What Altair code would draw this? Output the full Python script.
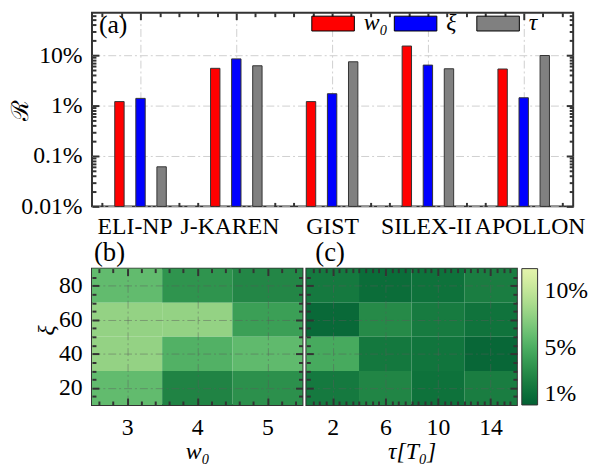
import json
import altair as alt
import pandas as pd

FONT = "Liberation Serif, Times New Roman, Times, DejaVu Serif, serif"
TC = "#333333"

# ---------------- data ----------------
facilities = ["ELI-NP", "J-KAREN", "GIST", "SILEX-II", "APOLLON"]
params = ["w₀", "ξ", "τ"]
param_colors = ["#ff0000", "#0000ff", "#808080"]
r_w0 = [1.20, 5.49, 1.20, 15.2, 5.32]
r_xi = [1.39, 8.45, 1.72, 6.36, 1.43]
r_tau = [0.061, 6.17, 7.40, 5.38, 9.86]

xi_vals = [80, 60, 40, 20]
w0_vals = [3, 4, 5]
tau_vals = [2, 6, 10, 14]
R_w0_xi = [
    [6.0, 3.4, 2.6],
    [8.0, 8.0, 4.1],
    [8.0, 5.3, 5.9],
    [6.0, 2.4, 3.2],
]
R_tau_xi = [
    [1.7, 0.85, 1.2, 2.0],
    [0.6, 2.8, 1.8, 1.3],
    [4.8, 1.6, 1.4, 0.5],
    [1.7, 2.5, 1.2, 2.0],
]

rows = []
for i, fac in enumerate(facilities):
    for j, (p, vals) in enumerate(zip(params, [r_w0, r_xi, r_tau])):
        rows.append({"facility": fac, "idx": i + 1, "param": p, "R": vals[i],
                     "pos": i + 1 + (j - 1) * 0.22})
bars_df = pd.DataFrame(rows)


def grid_df(xname, xvals, mat):
    return pd.DataFrame([{"xi": xi, xname: xv, "R": mat[r][c]}
                         for r, xi in enumerate(xi_vals)
                         for c, xv in enumerate(xvals)])


df_b = grid_df("w0", w0_vals, R_w0_xi)
df_c = grid_df("tau", tau_vals, R_tau_xi)

GRID_DASH = [8, 3, 2, 3]


def tick_axis(orient, values, size, **kw):
    d = dict(orient=orient, values=values, tickSize=size, offset=-size, tickWidth=2,
             tickColor=TC, domain=False, labels=False, grid=False, title=None, ticks=True)
    d.update(kw)
    return alt.Axis(**d)


# ---------------- top panel ----------------
x_sc = alt.Scale(domain=[0.545, 5.465], nice=False, zero=False)
y_sc = alt.Scale(type="log", domain=[0.01, 69.7], nice=False)
x_major = [1, 2, 3, 4, 5]
x_minor = [round(0.6 + 0.2 * k, 1) for k in range(25) if abs((0.6 + 0.2 * k) - round(0.6 + 0.2 * k)) > 1e-6]
y_major = [0.01, 0.1, 1, 10]
y_minor = [m * 10 ** e for e in (-2, -1, 0, 1) for m in range(2, 10) if m * 10 ** e <= 69.7]

fac_expr = json.dumps(facilities) + "[datum.value - 1]"
nudges = [-6, -7, 0, -2, 6]
label_nudge = {"condition": [{"test": f"datum.value == {k + 1}", "value": v}
                             for k, v in enumerate(nudges) if v != 0],
               "value": 0}

base_top = alt.Chart(bars_df)
bars = base_top.mark_bar(size=9.5, stroke=TC, strokeWidth=1, orient="vertical").encode(
    x=alt.X("pos:Q", scale=x_sc,
            axis=tick_axis("bottom", x_major, 7, labels=True, labelExpr=fac_expr,
                           labelPadding=8, labelFlush=False, labelOverlap=False,
                           labelOffset=label_nudge,
                           grid=True, gridDash=GRID_DASH, gridColor="#cfcfcf", gridWidth=1)),
    y=alt.Y("R:Q", scale=y_sc,
            axis=tick_axis("left", y_major, 7, labels=True,
                           labelExpr="format(datum.value, '~g') + '%'",
                           labelPadding=10, labelFlush=False,
                           grid=True, gridDash=GRID_DASH, gridColor="#cfcfcf", gridWidth=1,
                           title="ℛ", titleX=-79, titleBaseline="middle", titleAlign="center",
                           titleAngle=-90)),
    y2=alt.datum(0.01),
    color=alt.Color("param:N", scale=alt.Scale(domain=params, range=param_colors),
                    legend=alt.Legend(orient="none", legendX=232, legendY=-1, direction="horizontal",
                                      columns=3, title=None, symbolType="M-2.87,-1H2.87V1H-2.87Z",
                                      symbolSize=225, symbolStrokeColor="black",
                                      symbolStrokeWidth=1, symbolOpacity=1,
                                      labelOffset=19, columnPadding=3.5, gridAlign="all",
                                      labelFontStyle="italic", labelFontSize=24, padding=0)),
)
ghost = base_top.mark_point(opacity=0, size=1)
g1 = ghost.encode(x=alt.X("pos:Q", scale=x_sc, axis=tick_axis("bottom", x_minor, 4)),
                  y=alt.Y("R:Q", scale=y_sc, axis=tick_axis("left", y_minor, 4)))
g2 = ghost.encode(x=alt.X("pos:Q", scale=x_sc, axis=tick_axis("top", x_major, 7)),
                  y=alt.Y("R:Q", scale=y_sc, axis=tick_axis("right", y_major, 7)))
g3 = ghost.encode(x=alt.X("pos:Q", scale=x_sc, axis=tick_axis("top", x_minor, 4)),
                  y=alt.Y("R:Q", scale=y_sc, axis=tick_axis("right", y_minor, 4)))

top = alt.layer(bars, g1, g2, g3).resolve_axis(x="independent", y="independent").properties(
    width=487, height=196,
    title=alt.TitleParams("(a)", anchor="start", frame="group", baseline="top", offset=-27, dx=7,
                          fontSize=26, font=FONT, fontWeight="normal"))

# ---------------- heatmaps ----------------
color_scale = alt.Scale(scheme="yellowgreen", reverse=True, domain=[0, 12])
cb_legend = alt.Legend(orient="none", legendX=435, legendY=0, direction="vertical", title=None,
                       gradientLength=138, gradientThickness=16, values=[1, 5, 10],
                       labelExpr="datum.value + '%'", gradientStrokeColor=TC,
                       gradientStrokeWidth=1, labelOffset=7, labelFontSize=24, padding=0)
y_hm_major = [20, 40, 60, 80]
y_hm_minor = [v for v in range(15, 90, 5) if v not in y_hm_major]
HM_GRID = "rgba(90,90,90,0.45)"


def hm_panel(df, xname, xdomain, xmajor, xminor, xtitle, show_y, title, title_dx, width):
    xs = alt.Scale(domain=xdomain, nice=False, zero=False)
    ys = alt.Scale(domain=[10, 90], nice=False, zero=False)
    half = (xmajor[1] - xmajor[0]) / 2
    base = alt.Chart(df)
    yaxis_kw = dict(grid=True, gridDash=GRID_DASH, gridColor=HM_GRID, zindex=1)
    if show_y:
        yaxis_kw.update(labels=True, labelPadding=10, title="ξ", titleFontStyle="italic",
                        titleX=-53, titleY=62, titleBaseline="middle", titleAlign="center",
                        titleAngle=-90)
    rect = base.transform_calculate(
        x0=f"datum['{xname}'] - {half}", x1=f"datum['{xname}'] + {half}",
        y0="datum.xi - 10", y1="datum.xi + 10",
    ).mark_rect().encode(
        x=alt.X("x0:Q", scale=xs,
                axis=tick_axis("bottom", xmajor, 7, labels=True, labelPadding=11, labelFlush=False,
                               grid=True, gridDash=GRID_DASH, gridColor=HM_GRID, zindex=1,
                               title=xtitle, titleFontStyle="italic", titlePadding=0)),
        x2="x1:Q",
        y=alt.Y("y0:Q", scale=ys, axis=tick_axis("left", y_hm_major, 7, **yaxis_kw)),
        y2="y1:Q",
        color=alt.Color("R:Q", scale=color_scale, legend=cb_legend),
    )
    gh = base.mark_point(opacity=0, size=1)
    h1 = gh.encode(x=alt.X(f"{xname}:Q", scale=xs, axis=tick_axis("bottom", xminor, 4, zindex=1)),
                   y=alt.Y("xi:Q", scale=ys, axis=tick_axis("left", y_hm_minor, 4, zindex=1)))
    h2 = gh.encode(x=alt.X(f"{xname}:Q", scale=xs, axis=tick_axis("top", xmajor, 7, zindex=1)),
                   y=alt.Y("xi:Q", scale=ys, axis=tick_axis("right", y_hm_major, 7, zindex=1)))
    h3 = gh.encode(x=alt.X(f"{xname}:Q", scale=xs, axis=tick_axis("top", xminor, 4, zindex=1)),
                   y=alt.Y("xi:Q", scale=ys, axis=tick_axis("right", y_hm_minor, 4, zindex=1)))
    return alt.layer(rect, h1, h2, h3).resolve_axis(x="independent", y="independent").properties(
        width=width, height=138,
        title=alt.TitleParams(title, anchor="start", frame="group", offset=1, dx=title_dx,
                              fontSize=27, font=FONT, fontWeight="normal"))


w0_minor = [round(2.6 + 0.2 * k, 1) for k in range(15)]
w0_minor = [v for v in w0_minor if abs(v - round(v)) > 1e-6]
tau_minor = [0.5 * k for k in range(1, 32) if (0.5 * k) not in tau_vals]

panel_b = hm_panel(df_b, "w0", [2.5, 5.5], w0_vals, w0_minor, "w₀", True, "(b)", 2, 213)
panel_c = hm_panel(df_c, "tau", [0, 16], tau_vals, tau_minor, "τ[T₀]", False, "(c)", 9, 213)

bottom = alt.hconcat(panel_b, panel_c, spacing=4, bounds="flush")

chart = alt.vconcat(top, bottom, spacing=63, bounds="flush").resolve_scale(
    color="independent"
).properties(padding=0).configure_view(
    stroke=TC, strokeWidth=2
).configure_axis(
    labelFont=FONT, titleFont=FONT, labelFontSize=24, titleFontSize=24, labelColor="black",
    titleColor="black", titleFontWeight="normal"
).configure_legend(
    labelFont=FONT, labelFontSize=24, labelColor="black"
).configure_title(
    font=FONT, fontSize=24, fontWeight="normal", color="black"
)

chart.save("out.html", embed_options={"renderer": "svg", "actions": False})
